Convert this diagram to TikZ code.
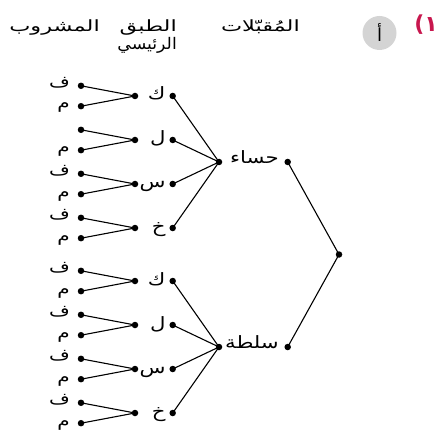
\documentclass[tikz,border=0pt]{standalone}
\usepackage{fontspec}
\newfontfamily\arabicfont[Script=Arabic,FakeStretch=1.25]{DejaVu Sans}
\newfontfamily\arabicwide[Script=Arabic,FakeStretch=1.45]{DejaVu Sans}
\newfontfamily\arabicnarrow[Script=Arabic,FakeStretch=1.08]{DejaVu Sans}
\newfontfamily\arabicplain[Script=Arabic]{DejaVu Sans}
\newfontfamily\arabicbold[Script=Arabic]{DejaVu Sans Bold}
\definecolor{numred}{HTML}{C8174E}
\definecolor{circgray}{HTML}{D4D4D4}
\begin{document}
\begin{tikzpicture}[x=1pt,y=-1pt,
  dot/.style={circle,fill=black,inner sep=0pt,minimum size=6.5pt},
  edge/.style={line width=1.1pt,line cap=round},
  leaflab/.style={font=\arabicfont\fontsize{16}{18}\selectfont,inner sep=0pt,anchor=base east},
  midlab/.style={font=\arabicfont\fontsize{17}{19}\selectfont,inner sep=0pt,anchor=base east},
  toplab/.style={font=\arabicfont\fontsize{17}{19}\selectfont,inner sep=0pt,anchor=base east},
  headlab/.style={font=\arabicwide\fontsize{15.5}{18}\selectfont,inner sep=0pt,anchor=base east},
  headlabn/.style={font=\arabicnarrow\fontsize{16}{18}\selectfont,inner sep=0pt,anchor=base east}]
\useasboundingbox (0,0) rectangle (443,435);
% header
\node[headlab] (h-drink) at (100,32) {المشروب};
\node[headlab] (h-main1) at (177,32) {الطبق};
\node[headlabn] (h-main2) at (177,50) {الرئيسي};
\node[headlab] (h-app) at (300,32) {المُقبّلات};
\node[circle,fill=circgray,minimum size=34pt,inner sep=0pt] (badge) at (379.5,33) {};
\node[font=\arabicplain\fontsize{18}{20}\selectfont,inner sep=0pt] (badgetxt) at (379.5,33) {أ};
\node[font=\arabicbold\fontsize{22}{24}\selectfont,text=numred,inner sep=0pt] (num) at (426,25) {١)};
% root
\node[dot] (root) at (339,254.5) {};
% first level
\node[dot] (aR) at (287.7,162) {};
\node[dot] (aL) at (219,162) {};
\node[toplab] (aT) at (279,163.5) {حساء};
\node[dot] (bR) at (287.7,347) {};
\node[dot] (bL) at (219,347) {};
\node[toplab] (bT) at (279,348.5) {سلطة};
\draw[edge] (root.center) -- (aR.center);
\draw[edge] (root.center) -- (bR.center);
% second level
\foreach \g/\p/\y in {a/1/96,a/2/140,a/3/184,a/4/228,b/1/281,b/2/325,b/3/369,b/4/413}{
  \node[dot] (\g\p R) at (172.7,\y) {};
  \node[dot] (\g\p L) at (135,\y) {};
  \node[dot] (\g\p f) at (81,\y-10.2) {};
  \node[dot] (\g\p m) at (81,\y+10.2) {};
  \draw[edge] (\g L.center) -- (\g\p R.center);
  \draw[edge] (\g\p L.center) -- (\g\p f.center);
  \draw[edge] (\g\p L.center) -- (\g\p m.center);
  \node[leaflab] (\g\p mt) at (70,\y+13) {م};
}
\foreach \g/\p/\y in {a/1/96,a/3/184,a/4/228,b/1/281,b/2/325,b/3/369,b/4/413}{
  \node[leaflab] (\g\p ft) at (70,\y-8.2) {ف};
}
\foreach \g/\p/\t in {a/1/ك,a/2/ل,a/3/س,a/4/خ,b/1/ك,b/2/ل,b/3/س,b/4/خ}{
  \path (\g\p R.center) ++(-7,4) node[midlab] (\g\p t) {\t};
}
\end{tikzpicture}
\end{document}
